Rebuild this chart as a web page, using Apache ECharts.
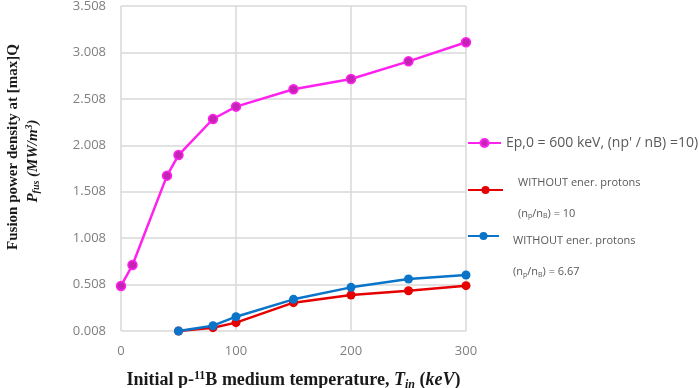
<!DOCTYPE html>
<html>
<head>
<meta charset="utf-8">
<script src="https://cdn.jsdelivr.net/npm/echarts@6/dist/echarts.min.js"></script>
<style>
    html, body { margin: 0; padding: 0; background: #fff; }
    #main { width: 699px; height: 388px; }
</style>
</head>
<body>
<div id="main"></div>
<script>
// 数据
const xMag = [0, 10, 40, 50, 80, 100, 150, 200, 250, 300];
const yMag = [0.493, 0.719, 1.681, 1.903, 2.291, 2.424, 2.611, 2.722, 2.912, 3.117];
const xNoProton = [50, 80, 100, 150, 200, 250, 300];
const yRed = [0.008, 0.044, 0.098, 0.313, 0.396, 0.442, 0.496];
const yBlue = [0.008, 0.065, 0.162, 0.349, 0.478, 0.568, 0.611];
const seriesNames = [
    "Ep,0 = 600 keV, (np' / nB) =10)",
    "WITHOUT ener. protons (np/nB) = 10",
    "WITHOUT ener. protons (np/nB) = 6.67"
];

const pair = (xs, ys) => xs.map((x, i) => [x, ys[i]]);

const gridColor = '#d9d9d9';
const labelColor = '#7f7f7f';
const legendColor = '#595959';
const serif = '"Liberation Serif", "DejaVu Serif", serif';
const sans = '"Open Sans", "Noto Sans", sans-serif';

// 图例文字样式
const legendRich = {
    a: { fontSize: 11, color: legendColor, fontFamily: sans, lineHeight: 31 },
    b: { fontSize: 11, color: legendColor, fontFamily: sans, lineHeight: 31 },
    s: { fontSize: 7, color: legendColor, fontFamily: sans, lineHeight: 31, padding: [5, 0, 0, 0] }
};
const legendLabel = (name) => {
    if (name === seriesNames[0]) return name;
    const ratio = name === seriesNames[1] ? '10' : '6.67';
    return '{a|WITHOUT ener. protons}\n{b|(n}{s|p}{b|/n}{s|B}{b|) = ' + ratio + '}';
};

const chart = echarts.init(document.getElementById('main'));
const option = {
    animation: false,
    grid: { left: 121, right: 233, top: 6, bottom: 57, containLabel: false, outerBoundsMode: 'none' },
    legend: [
        {
            data: [seriesNames[0]], left: 467, top: 136, padding: 0,
            itemWidth: 33, itemHeight: 10,
            formatter: legendLabel,
            textStyle: { fontSize: 14, color: legendColor, fontFamily: sans }
        },
        {
            data: [seriesNames[1]], left: 467, top: 177, padding: 0,
            itemWidth: 35, itemHeight: 10,
            formatter: legendLabel,
            textStyle: { padding: [16, 0, 0, 10], rich: legendRich }
        },
        {
            data: [seriesNames[2]], left: 467, top: 232, padding: 0,
            itemWidth: 31, itemHeight: 10,
            formatter: legendLabel,
            textStyle: { padding: [41, 0, 0, 9], rich: legendRich }
        }
    ],
    xAxis: {
        type: 'value', min: 0, max: 300, interval: 100,
        name: '{n|Initial p-}{sup|11}{n|B medium temperature, }{i|T}{sub|in}{n| (}{i|keV}{n|)}',
        nameLocation: 'middle', nameGap: 39,
        nameTextStyle: {
            rich: {
                n: { fontSize: 18, fontWeight: 'bold', fontFamily: serif, color: '#1a1a1a' },
                i: { fontSize: 18, fontWeight: 'bold', fontStyle: 'italic', fontFamily: serif, color: '#1a1a1a' },
                sup: { fontSize: 12, fontWeight: 'bold', fontFamily: serif, color: '#1a1a1a', padding: [0, 0, 9, 0] },
                sub: { fontSize: 12, fontWeight: 'bold', fontStyle: 'italic', fontFamily: serif, color: '#1a1a1a', padding: [8, 0, 0, 0] }
            }
        },
        axisLine: { show: false },
        axisTick: { show: false },
        axisLabel: { color: labelColor, fontSize: 13, fontFamily: sans, margin: 14 },
        splitLine: { show: true, lineStyle: { color: gridColor, width: 1.5 } }
    },
    yAxis: {
        type: 'value', min: 0.008, max: 3.508, interval: 0.5,
        name: '{t|Fusion power density at [max]Q}\n{p|P}{ps|fus}{q| (MW/m}{pu|3}{q|)}',
        nameLocation: 'middle', nameRotate: 90, nameGap: 78,
        nameTextStyle: {
            rich: {
                t: { fontSize: 15, fontWeight: 'bold', fontFamily: serif, color: '#1a1a1a', lineHeight: 20, padding: [0, 0, 0, 43] },
                p: { fontSize: 15, fontWeight: 'bold', fontStyle: 'italic', fontFamily: serif, color: '#1a1a1a', lineHeight: 20, padding: [0, 0, 0, 15] },
                ps: { fontSize: 10, fontWeight: 'bold', fontStyle: 'italic', fontFamily: serif, color: '#1a1a1a', padding: [7, 0, 0, 0] },
                q: { fontSize: 15, fontWeight: 'bold', fontStyle: 'italic', fontFamily: serif, color: '#1a1a1a' },
                pu: { fontSize: 10, fontWeight: 'bold', fontStyle: 'italic', fontFamily: serif, color: '#1a1a1a', padding: [0, 0, 8, 0] }
            }
        },
        axisLine: { show: false },
        axisTick: { show: false },
        axisLabel: {
            color: labelColor, fontSize: 13, fontFamily: sans, margin: 15,
            formatter: (v) => v.toFixed(3)
        },
        splitLine: { show: true, lineStyle: { color: gridColor, width: 1.5 } }
    },
    series: [
        {
            name: seriesNames[0], type: 'line', data: pair(xMag, yMag),
            symbol: 'circle', symbolSize: 9,
            lineStyle: { color: '#ff22ee', width: 2.5 },
            itemStyle: { color: '#c424b4', borderColor: '#ff22ee', borderWidth: 1.5 }
        },
        {
            name: seriesNames[1], type: 'line', data: pair(xNoProton, yRed),
            symbol: 'circle', symbolSize: 9,
            lineStyle: { color: '#e60000', width: 2.5 },
            itemStyle: { color: '#e60000' }
        },
        {
            name: seriesNames[2], type: 'line', data: pair(xNoProton, yBlue),
            symbol: 'circle', symbolSize: 9,
            lineStyle: { color: '#0a74c8', width: 2.5 },
            itemStyle: { color: '#0a74c8' }
        }
    ]
};
chart.setOption(option);
</script>
</body>
</html>
